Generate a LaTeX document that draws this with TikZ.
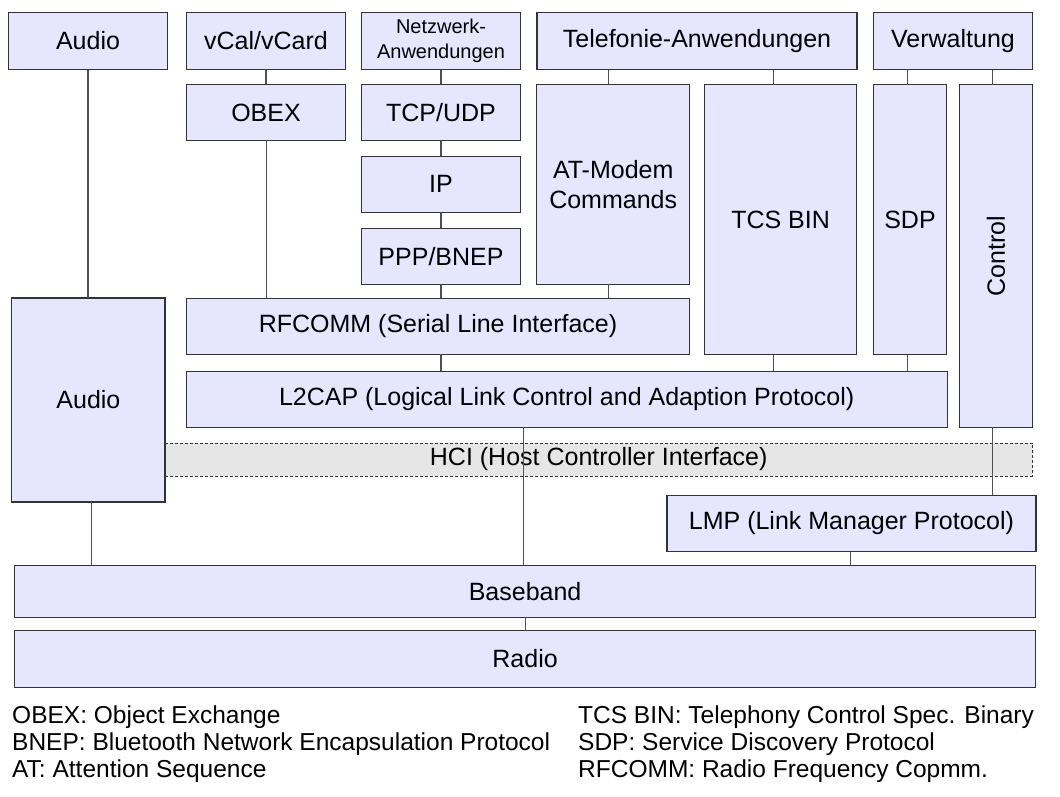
\documentclass[tikz,border=0pt]{standalone}
\usepackage{fontspec}
\setmainfont{Liberation Sans}
\usetikzlibrary{calc}
\definecolor{boxfill}{HTML}{E6E6FF}
\definecolor{hcifill}{HTML}{E6E6E6}
\definecolor{boxline}{HTML}{333333}
\definecolor{conn}{HTML}{505050}
\tikzset{
  layer/.style={draw=boxline, fill=boxfill, line width=1.1pt, inner sep=0pt, outer sep=0pt,
    align=center, font=\fontsize{25}{30}\selectfont},
  hcibox/.style={draw=boxline, fill=hcifill, line width=0.9pt, dash pattern=on 3pt off 2pt,
    inner sep=0pt, outer sep=0pt, font=\fontsize{25}{30}\selectfont},
  link/.style={draw=conn, line width=1.1pt},
  legend/.style={anchor=west, inner sep=0pt, font=\fontsize{24.5}{29}\selectfont}
}
\begin{document}
\begin{tikzpicture}[x=1pt, y=-1pt]
\useasboundingbox[fill=white] (0,0) rectangle (1060,796);
% HCI band (drawn first, Audio covers its left end)
\node[hcibox, minimum width=867.4pt, minimum height=33pt] (hci) at (598.7,459.5) {HCI (Host Controller Interface)};
% top row
\node[layer, minimum width=159pt, minimum height=57pt] (audioT) at (88,41) {Audio};
\node[layer, minimum width=159pt, minimum height=57pt] (vcal) at (266,41) {vCal/vCard};
\node[layer, minimum width=159pt, minimum height=57pt, font=\fontsize{20}{25}\selectfont] (netz) at (441,41) {Netzwerk-\\Anwendungen};
\node[layer, minimum width=320pt, minimum height=57pt] (tel) at (697,41) {Telefonie-Anwendungen};
\node[layer, minimum width=159pt, minimum height=57pt] (verw) at (953,41) {Verwaltung};
% second level
\node[layer, minimum width=159pt, minimum height=56pt] (obex) at (266,112.4) {OBEX};
\node[layer, minimum width=159pt, minimum height=56pt] (tcp) at (441,112.4) {TCP/UDP};
\node[layer, minimum width=159pt, minimum height=56pt] (ip) at (441,184.2) {IP};
\node[layer, minimum width=159pt, minimum height=56pt] (ppp) at (441,256.4) {PPP/BNEP};
\node[layer, minimum width=153pt, minimum height=200pt] (at) at (613.2,184.4) {AT-Modem\\Commands};
\node[layer, minimum width=152.5pt, minimum height=270pt] (tcs) at (780.6,219.5) {TCS BIN};
\node[layer, minimum width=73pt, minimum height=270pt] (sdp) at (910,219.5) {SDP};
\node[layer, minimum width=72.7pt, minimum height=342.8pt] (ctrl) at (996,255.9) {\rotatebox{90}{Control}};
% middle
\node[layer, minimum width=153.2pt, minimum height=204pt] (audioB) at (88.4,400) {Audio};
\node[layer, minimum width=503.3pt, minimum height=56pt] (rfcomm) at (438,326.2) {RFCOMM (Serial Line Interface)};
\node[layer, minimum width=761pt, minimum height=56pt] (l2cap) at (566.7,399.4) {L2CAP (Logical Link Control and Adaption Protocol)};
\node[layer, minimum width=369pt, minimum height=56.5pt] (lmp) at (851.5,523.5) {LMP (Link Manager Protocol)};
% bottom
\node[layer, minimum width=1021pt, minimum height=52pt] (baseband) at (525.1,591.4) {Baseband};
\node[layer, minimum width=1021pt, minimum height=57pt] (radio) at (525.1,659) {Radio};
% connectors
\draw[link] (audioT.south) -- (audioT.south |- audioB.north);
\draw[link] (vcal.south) -- (obex.north);
\draw[link] ([xshift=0.7pt]obex.south) -- ([xshift=0.7pt]obex.south |- rfcomm.north);
\draw[link] (netz.south) -- (tcp.north);
\draw[link] (tcp.south) -- (ip.north);
\draw[link] (ip.south) -- (ppp.north);
\draw[link] (ppp.south) -- (ppp.south |- rfcomm.north);
\draw[link] (ppp.south |- rfcomm.south) -- (ppp.south |- l2cap.north);
\draw[link] ([xshift=-4.8pt]at.north) -- ([xshift=-4.8pt]at.north |- tel.south);
\draw[link] ([xshift=-4.8pt]at.south) -- ([xshift=-4.8pt]at.south |- rfcomm.north);
\draw[link] ([xshift=-7.2pt]tcs.north) -- ([xshift=-7.2pt]tcs.north |- tel.south);
\draw[link] ([xshift=-7.2pt]tcs.south) -- ([xshift=-7.2pt]tcs.south |- l2cap.north);
\draw[link] ([xshift=-2.4pt]sdp.north) -- ([xshift=-2.4pt]sdp.north |- verw.south);
\draw[link] ([xshift=-2.4pt]sdp.south) -- ([xshift=-2.4pt]sdp.south |- l2cap.north);
\draw[link] ([xshift=-3.5pt]ctrl.north) -- ([xshift=-3.5pt]ctrl.north |- verw.south);
\draw[link] ([xshift=-3.5pt]ctrl.south) -- ([xshift=-3.5pt]ctrl.south |- lmp.north);
\draw[link] ([xshift=-43pt]l2cap.south) -- ([xshift=-43pt]l2cap.south |- baseband.north);
\draw[link] ([xshift=3.2pt]audioB.south) -- ([xshift=3.2pt]audioB.south |- baseband.north);
\draw[link] ([xshift=-1pt]lmp.south) -- ([xshift=-1pt]lmp.south |- baseband.north);
\draw[link] (baseband.south) -- (radio.north);
% legend
\node[legend] (l1) at (12,717) {OBEX: Object Exchange};
\node[legend] (l2) at (12,744) {BNEP: Bluetooth Network Encapsulation Protocol};
\node[legend] (l3) at (12,771) {AT: Attention Sequence};
\node[legend] (r1) at (578,717) {TCS BIN: Telephony Control Spec. Binary};
\node[legend] (r2) at (578,744) {SDP: Service Discovery Protocol};
\node[legend] (r3) at (578,771) {RFCOMM: Radio Frequency Copmm.};
\end{tikzpicture}
\end{document}
